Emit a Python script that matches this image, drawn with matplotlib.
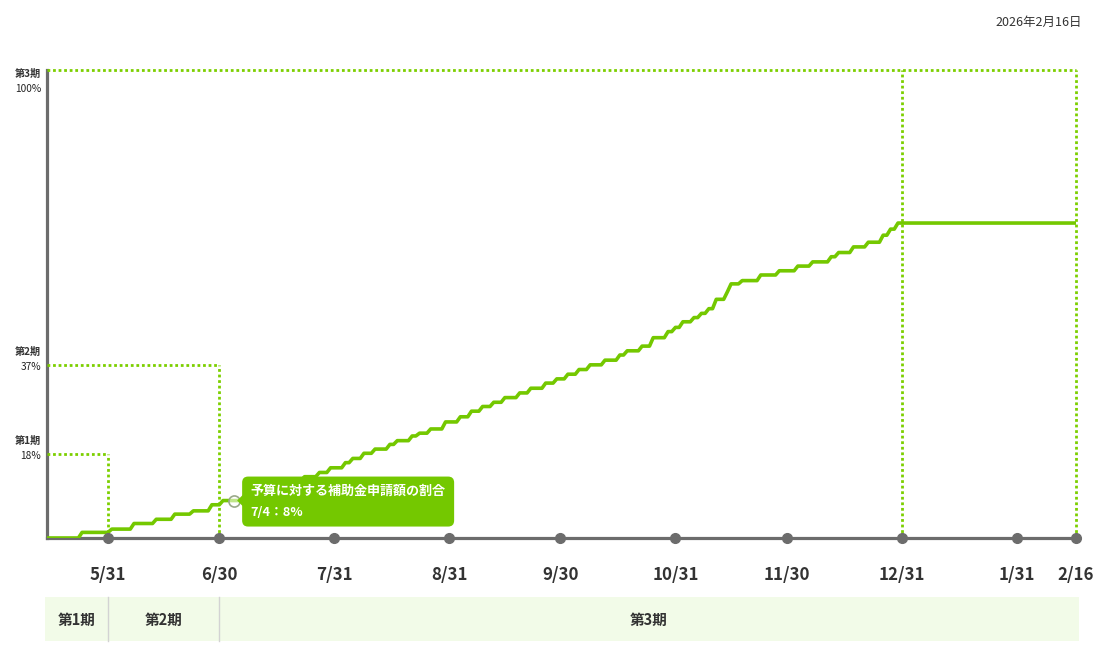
import matplotlib
matplotlib.use("Agg")
import matplotlib.pyplot as plt
import matplotlib.dates as mdates
from matplotlib.patches import FancyBboxPatch, Rectangle, Polygon
import pandas as pd

plt.rcParams['font.family'] = ['Noto Sans CJK JP', 'DejaVu Sans']

# ---------------- data ----------------
change_dates = ["2025-05-14", "2025-05-24", "2025-06-01", "2025-06-07", "2025-06-13",
                "2025-06-18", "2025-06-23", "2025-06-28", "2025-07-01", "2025-07-07",
                "2025-07-10", "2025-07-14", "2025-07-17", "2025-07-20", "2025-07-23",
                "2025-07-27", "2025-07-30", "2025-08-03", "2025-08-05", "2025-08-08",
                "2025-08-11", "2025-08-15", "2025-08-17", "2025-08-21", "2025-08-23",
                "2025-08-26", "2025-08-30", "2025-09-03", "2025-09-06", "2025-09-09",
                "2025-09-12", "2025-09-15", "2025-09-19", "2025-09-22", "2025-09-26",
                "2025-09-29", "2025-10-02", "2025-10-05", "2025-10-08", "2025-10-12",
                "2025-10-16", "2025-10-18", "2025-10-22", "2025-10-25", "2025-10-29",
                "2025-10-31", "2025-11-02", "2025-11-05", "2025-11-07", "2025-11-09",
                "2025-11-11", "2025-11-14", "2025-11-15", "2025-11-18", "2025-11-23",
                "2025-11-28", "2025-12-03", "2025-12-07", "2025-12-12", "2025-12-14",
                "2025-12-18", "2025-12-22", "2025-12-26", "2025-12-28", "2025-12-30"]
ratio_values = [0.0, 1.2, 1.9, 3.1, 4.0, 5.1, 5.8, 7.1, 8.0, 8.9,
                9.7, 10.6, 11.4, 12.3, 13.1, 14.0, 15.0, 16.1, 17.0, 18.1,
                19.0, 20.0, 20.8, 21.8, 22.4, 23.3, 24.8, 25.9, 27.1, 28.1,
                29.0, 30.0, 31.0, 32.0, 33.1, 34.0, 35.0, 36.0, 37.0, 38.0,
                39.1, 40.0, 41.0, 42.8, 44.1, 45.0, 46.2, 47.1, 48.0, 49.0,
                51.0, 52.6, 54.3, 55.0, 56.2, 57.1, 58.1, 59.0, 60.1, 61.0,
                62.2, 63.2, 64.7, 66.0, 67.3]

period_names = ["第1期", "第2期", "第3期"]
period_shares = [18, 37, 100]
period_ends = ["2025-05-31", "2025-06-30", "2025-12-31"]

axis_start = "2025-05-14 13:00"
axis_end = "2026-02-16"

tick_dates = ["2025-05-31", "2025-06-30", "2025-07-31", "2025-08-31", "2025-09-30",
              "2025-10-31", "2025-11-30", "2025-12-31", "2026-01-31", "2026-02-16"]
tick_labels = ["5/31", "6/30", "7/31", "8/31", "9/30", "10/31", "11/30", "12/31", "1/31", "2/16"]

hover_date = "2025-07-04"
hover_value = 8
tooltip_title = "予算に対する補助金申請額の割合"
report_date = "2026年2月16日"

# ---------------- style ----------------
GREEN = "#74c800"
DOT_GREEN = "#7ccf00"
AXIS_GRAY = "#6c6c6c"
TEXT = "#333333"
BAND = "#f2fbe8"

W, H = 1110, 658
fig = plt.figure(figsize=(W / 100, H / 100), dpi=100)
ax = fig.add_axes([47 / W, (H - 538) / H, (1076 - 47) / W, (538 - 70) / H])

start = pd.Timestamp(axis_start)
end = pd.Timestamp(axis_end)
ax.set_xlim(start, end)
ax.set_ylim(0, 100)

for s in ("top", "right"):
    ax.spines[s].set_visible(False)
for s in ("left", "bottom"):
    ax.spines[s].set_color(AXIS_GRAY)
    ax.spines[s].set_linewidth(2.3)
ax.tick_params(length=0, labelleft=False, labelbottom=False)
ax.set_xticks([])
ax.set_yticks([])

# series: hold each read level until the next change, daily points
series = pd.Series(ratio_values, index=pd.to_datetime(change_dates))
daily = series.reindex(pd.date_range(change_dates[0], end, freq="D")).ffill()
ax.plot(daily.index, daily.values, color=GREEN, lw=2.6, zorder=4,
        solid_joinstyle="round", solid_capstyle="butt", clip_on=True)

# dotted budget lines
dot_style = dict(color=DOT_GREEN, lw=2.0, linestyle=(0, (1.0, 1.0)), zorder=3, clip_on=False)
for i, (share, pend) in enumerate(zip(period_shares, period_ends)):
    pe = pd.Timestamp(pend)
    if i < len(period_shares) - 1:
        ax.plot([start, pe], [share, share], **dot_style)
        ax.plot([pe, pe], [0, share], **dot_style)
    else:
        ax.plot([start, end], [share, share], **dot_style)
        ax.plot([pe, pe], [0, share], **dot_style)
        ax.plot([end, end], [0, share], **dot_style)

# tick dots
td = pd.to_datetime(tick_dates)
ax.plot(td, [0] * len(td), "o", ms=7, color=AXIS_GRAY, zorder=6, clip_on=False)

# hover marker
hd = pd.Timestamp(hover_date)
ax.plot([hd], [hover_value], "o", ms=8, mfc=(1, 1, 1, 0.55), mec="#9aa98a",
        mew=1.2, zorder=7, clip_on=False)

# ---------------- overlay in pixel coordinates ----------------
ov = fig.add_axes([0, 0, 1, 1])
ov.set_xlim(0, W)
ov.set_ylim(H, 0)
ov.axis("off")
ov.patch.set_alpha(0)
ov.set_zorder(5)


def px(d, v):
    x, y = ax.transData.transform((mdates.date2num(pd.Timestamp(d)), v))
    return x, H - y


# y labels
for name, share in zip(period_names, period_shares):
    _, py = px(start, share)
    if share >= 100:
        ov.text(41, py + 4, name, ha="right", va="center", fontsize=7.3, color=TEXT, weight="bold")
        ov.text(41, py + 19, f"{share}%", ha="right", va="center", fontsize=7.3, color="#222222")
    else:
        ov.text(41, py - 13, name, ha="right", va="center", fontsize=7.3, color=TEXT, weight="bold")
        ov.text(41, py + 2, f"{share}%", ha="right", va="center", fontsize=7.3, color="#222222")

# x labels
for d, lab in zip(tick_dates, tick_labels):
    x, _ = px(d, 0)
    ov.text(x, 575, lab, ha="center", va="center", fontsize=12.2, color=TEXT, weight="bold")

# period band
x0, _ = px(start, 0)
x1, _ = px(end, 0)
ov.add_patch(Rectangle((x0 - 2, 597), (x1 + 3) - (x0 - 2), 44, facecolor=BAND,
                       edgecolor="none", zorder=1))
bounds = [x0 - 2] + [px(p, 0)[0] for p in period_ends[:-1]] + [x1 + 3]
for b in bounds[1:-1]:
    ov.plot([b, b], [597, 641], color="#d3d3d3", lw=1, zorder=2)
for name, a, b in zip(period_names, bounds[:-1], bounds[1:]):
    ov.text((a + b) / 2, 620, name, ha="center", va="center", fontsize=10.5,
            color=TEXT, weight="bold", zorder=3)

# tooltip
mx, my = px(hover_date, hover_value)
bx, by, bw, bh = mx + 8, my - 24, 212, 50
ov.add_patch(FancyBboxPatch((bx, by), bw, bh, boxstyle="round,pad=0,rounding_size=6",
                            facecolor=GREEN, edgecolor="none", zorder=8))
ov.add_patch(Polygon([(bx + 1, my - 6), (bx - 5, my), (bx + 1, my + 6)], closed=True,
                     facecolor=GREEN, edgecolor="none", zorder=8))
ov.text(bx + 8, my - 10, tooltip_title, ha="left", va="center", fontsize=9.4,
        color="white", weight="bold", zorder=9)
ov.text(bx + 8, my + 12, f"{pd.Timestamp(hover_date).month}/{pd.Timestamp(hover_date).day}：{hover_value}%",
        ha="left", va="center", fontsize=9.2, color="white", weight="bold", zorder=9)

# report date
ov.text(1082, 22, report_date, ha="right", va="center", fontsize=9, color=TEXT)

fig.savefig("out.png", dpi=100)
